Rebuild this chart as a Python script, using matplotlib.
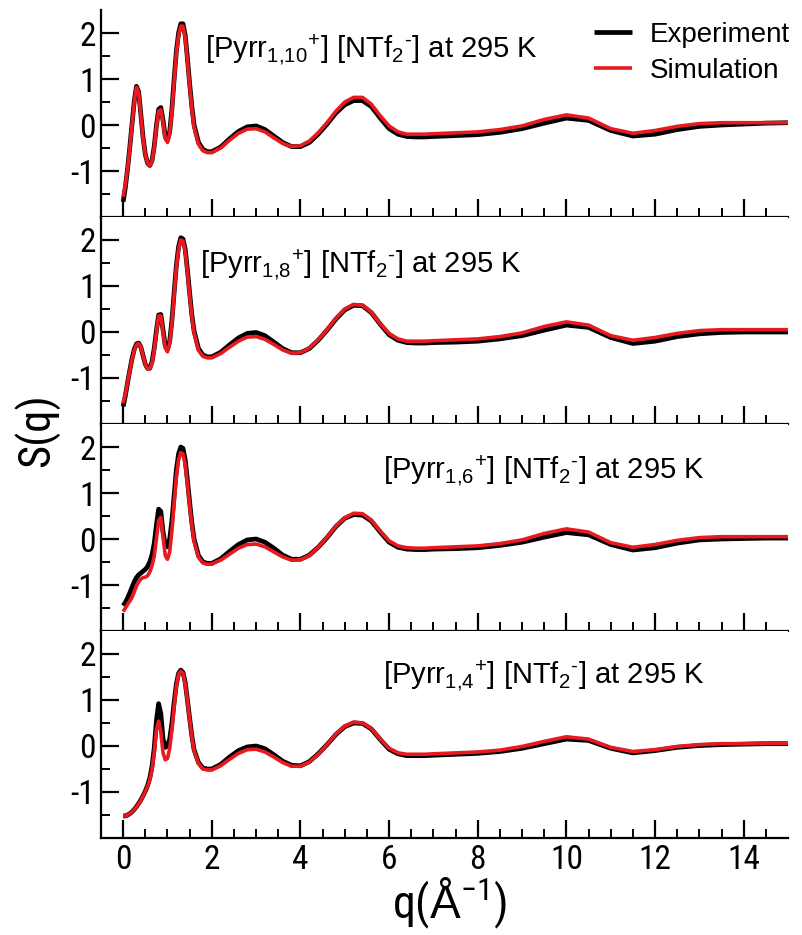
import matplotlib
matplotlib.use("Agg")
import matplotlib.pyplot as plt
from matplotlib import font_manager
from matplotlib.ticker import FixedLocator, NullFormatter

plt.rcParams['font.family'] = ['Liberation Sans', 'DejaVu Sans']
plt.rcParams['mathtext.fontset'] = 'custom'
plt.rcParams['mathtext.rm'] = 'Liberation Sans'
plt.rcParams['mathtext.it'] = 'Liberation Sans'
plt.rcParams['mathtext.default'] = 'regular'
plt.rcParams['axes.unicode_minus'] = False


def pick_family(candidates, default='Liberation Sans'):
    installed = {f.name for f in font_manager.fontManager.ttflist}
    for name in candidates:
        if name in installed:
            return name
    return default


narrow = [pick_family(['Liberation Sans Narrow', 'Arial Narrow', 'Roboto Condensed',
                       'Open Sans Condensed']), 'DejaVu Sans']

# scattering vector grid (1/Angstrom)
q = [0.0, 0.05, 0.1, 0.15, 0.2, 0.25, 0.3, 0.35, 0.4, 0.45, 0.5, 0.55, 0.6, 0.65,
     0.7, 0.75, 0.8, 0.85, 0.9, 0.95, 1.0, 1.05, 1.1, 1.15, 1.2, 1.25, 1.3, 1.35,
     1.4, 1.45, 1.5, 1.55, 1.6, 1.7, 1.8, 1.9, 2.0, 2.2, 2.4, 2.6, 2.8, 3.0, 3.2,
     3.4, 3.6, 3.8, 4.0, 4.2, 4.4, 4.6, 4.8, 5.0, 5.2, 5.4, 5.6, 5.8, 6.0, 6.2,
     6.4, 6.6, 6.8, 7.0, 7.5, 8.0, 8.5, 9.0, 9.5, 10.0, 10.5, 11.0, 11.5, 12.0,
     12.5, 13.0, 13.5, 14.0, 14.5, 15.0]

# [Pyrr1,10][NTf2]
exp_c10 = [-1.67, -1.35, -0.95, -0.48, 0.02, 0.52, 0.84, 0.72, 0.22, -0.28, -0.64, -0.83, -0.88, -0.78,
           -0.47, -0.02, 0.34, 0.38, 0.1, -0.25, -0.33, -0.15, 0.35, 1.0, 1.6, 2.0, 2.2, 2.2,
           1.95, 1.45, 0.9, 0.4, 0.0, -0.38, -0.53, -0.58, -0.58, -0.48, -0.3, -0.14, -0.04, -0.02, -0.1,
           -0.24, -0.38, -0.47, -0.47, -0.38, -0.2, 0.02, 0.26, 0.44, 0.53, 0.53, 0.4, 0.15, -0.08, -0.2,
           -0.25, -0.26, -0.26, -0.25, -0.23, -0.21, -0.16, -0.08, 0.04, 0.15, 0.1, -0.12, -0.24, -0.2,
           -0.1, -0.03, 0.0, 0.02, 0.04, 0.05]
sim_c10 = [-1.56, -1.3, -0.95, -0.5, 0.0, 0.5, 0.82, 0.7, 0.2, -0.3, -0.65, -0.83, -0.88, -0.8,
           -0.5, -0.05, 0.3, 0.33, 0.05, -0.3, -0.38, -0.2, 0.3, 0.95, 1.55, 1.95, 2.15, 2.15,
           1.9, 1.4, 0.85, 0.35, -0.05, -0.42, -0.56, -0.6, -0.6, -0.5, -0.33, -0.18, -0.09, -0.08, -0.15,
           -0.28, -0.4, -0.47, -0.45, -0.35, -0.17, 0.05, 0.3, 0.5, 0.6, 0.6, 0.45, 0.2, -0.02, -0.15,
           -0.2, -0.2, -0.2, -0.19, -0.17, -0.15, -0.1, -0.02, 0.12, 0.22, 0.15, -0.08, -0.18, -0.12,
           -0.03, 0.03, 0.05, 0.05, 0.05, 0.05]

# [Pyrr1,8][NTf2]
exp_c8 = [-1.62, -1.38, -1.1, -0.83, -0.58, -0.38, -0.26, -0.24, -0.33, -0.52, -0.7, -0.79, -0.79, -0.65,
          -0.36, 0.03, 0.37, 0.38, 0.04, -0.3, -0.38, -0.2, 0.25, 0.86, 1.45, 1.85, 2.05, 2.02,
          1.8, 1.35, 0.85, 0.37, 0.02, -0.36, -0.5, -0.54, -0.54, -0.44, -0.28, -0.13, -0.03, -0.01, -0.08,
          -0.22, -0.36, -0.45, -0.45, -0.36, -0.18, 0.04, 0.28, 0.48, 0.58, 0.57, 0.42, 0.17, -0.06, -0.18,
          -0.23, -0.24, -0.24, -0.23, -0.22, -0.2, -0.15, -0.08, 0.04, 0.15, 0.1, -0.12, -0.25, -0.2,
          -0.1, -0.04, -0.01, 0.0, 0.0, 0.0]
sim_c8 = [-1.55, -1.35, -1.1, -0.85, -0.6, -0.4, -0.28, -0.25, -0.33, -0.52, -0.7, -0.8, -0.8, -0.68,
          -0.4, 0.0, 0.35, 0.35, 0.0, -0.35, -0.43, -0.25, 0.2, 0.8, 1.4, 1.8, 2.0, 1.98,
          1.75, 1.3, 0.8, 0.33, -0.02, -0.4, -0.53, -0.56, -0.56, -0.47, -0.33, -0.2, -0.11, -0.1, -0.16,
          -0.27, -0.39, -0.46, -0.45, -0.35, -0.17, 0.05, 0.3, 0.5, 0.6, 0.58, 0.43, 0.18, -0.03, -0.15,
          -0.2, -0.2, -0.2, -0.19, -0.17, -0.15, -0.1, -0.02, 0.12, 0.22, 0.15, -0.08, -0.18, -0.12,
          -0.03, 0.03, 0.05, 0.05, 0.05, 0.05]

# [Pyrr1,6][NTf2]
exp_c6 = [-1.45, -1.38, -1.28, -1.17, -1.05, -0.93, -0.84, -0.78, -0.74, -0.7, -0.66, -0.6, -0.5, -0.35,
          -0.1, 0.3, 0.65, 0.6, 0.15, -0.12, -0.17, 0.0, 0.4, 0.95, 1.5, 1.85, 2.0, 1.97,
          1.72, 1.28, 0.8, 0.35, 0.0, -0.36, -0.5, -0.53, -0.53, -0.43, -0.27, -0.12, -0.02, 0.0, -0.07,
          -0.2, -0.35, -0.44, -0.44, -0.35, -0.18, 0.03, 0.27, 0.45, 0.53, 0.52, 0.39, 0.15, -0.07, -0.18,
          -0.22, -0.23, -0.23, -0.22, -0.21, -0.19, -0.14, -0.07, 0.04, 0.14, 0.09, -0.12, -0.24, -0.19,
          -0.09, -0.02, 0.0, 0.01, 0.02, 0.02]
sim_c6 = [-1.58, -1.5, -1.42, -1.35, -1.27, -1.15, -1.02, -0.93, -0.87, -0.84, -0.83, -0.8, -0.72, -0.58,
          -0.38, 0.0, 0.4, 0.47, 0.05, -0.36, -0.44, -0.28, 0.18, 0.78, 1.35, 1.72, 1.88, 1.85,
          1.62, 1.2, 0.72, 0.3, -0.05, -0.4, -0.52, -0.55, -0.54, -0.46, -0.33, -0.2, -0.12, -0.11, -0.17,
          -0.28, -0.39, -0.46, -0.45, -0.36, -0.18, 0.04, 0.28, 0.46, 0.56, 0.55, 0.41, 0.17, -0.04, -0.15,
          -0.19, -0.2, -0.2, -0.19, -0.17, -0.15, -0.1, -0.02, 0.12, 0.22, 0.15, -0.08, -0.18, -0.12,
          -0.03, 0.03, 0.05, 0.05, 0.05, 0.05]

# [Pyrr1,4][NTf2]
exp_c4 = [-1.52, -1.52, -1.5, -1.47, -1.43, -1.38, -1.32, -1.25, -1.17, -1.08, -0.98, -0.86, -0.7, -0.45,
          -0.05, 0.55, 0.92, 0.7, 0.15, -0.03, 0.0, 0.15, 0.5, 0.95, 1.35, 1.58, 1.65, 1.6,
          1.38, 1.0, 0.6, 0.22, -0.08, -0.36, -0.48, -0.5, -0.5, -0.4, -0.24, -0.1, -0.02, 0.0, -0.06,
          -0.19, -0.33, -0.42, -0.43, -0.34, -0.17, 0.03, 0.25, 0.42, 0.5, 0.49, 0.37, 0.14, -0.07, -0.17,
          -0.21, -0.21, -0.21, -0.2, -0.18, -0.16, -0.12, -0.05, 0.05, 0.15, 0.12, -0.05, -0.15, -0.1,
          -0.03, 0.01, 0.03, 0.04, 0.05, 0.05]
sim_c4 = [-1.52, -1.52, -1.5, -1.47, -1.43, -1.38, -1.33, -1.26, -1.18, -1.09, -0.99, -0.88, -0.74, -0.52,
          -0.15, 0.35, 0.54, 0.3, -0.15, -0.3, -0.27, -0.05, 0.35, 0.85, 1.3, 1.56, 1.63, 1.58,
          1.35, 0.98, 0.58, 0.2, -0.1, -0.38, -0.5, -0.52, -0.52, -0.43, -0.29, -0.16, -0.08, -0.07, -0.13,
          -0.24, -0.36, -0.44, -0.44, -0.35, -0.18, 0.03, 0.26, 0.43, 0.52, 0.5, 0.38, 0.15, -0.05, -0.15,
          -0.18, -0.18, -0.18, -0.17, -0.15, -0.13, -0.09, -0.01, 0.1, 0.2, 0.15, -0.03, -0.12, -0.08,
          -0.01, 0.03, 0.05, 0.05, 0.06, 0.06]

chains = ['1{,}10', '1{,}8', '1{,}6', '1{,}4']
panel_labels = [r'[Pyrr$_{%s}$$^{+}$] [NTf$_{2}$$^{\text{-}}$] at 295 K' % c for c in chains]
exp_series = [exp_c10, exp_c8, exp_c6, exp_c4]
sim_series = [sim_c10, sim_c8, sim_c6, sim_c4]

x_major = [0, 2, 4, 6, 8, 10, 12, 14]
x_minor = [0.5, 1, 1.5, 2.5, 3, 3.5, 4.5, 5, 5.5, 6.5, 7, 7.5, 8.5, 9, 9.5,
           10.5, 11, 11.5, 12.5, 13, 13.5, 14.5]
y_major = [-1, 0, 1, 2]
y_minor = [-1.5, -0.5, 0.5, 1.5]

W, H = 802, 935
fig = plt.figure(figsize=(W / 100, H / 100), dpi=100)
left, right = 101 / W, 788 / W
top_px, bot_px = 10, 838
h_px = (bot_px - top_px) / 4

# label anchor (figure px) for each panel: left x, vertical center y
label_pos = [(205, 50), (200, 265), (383, 471), (383, 676)]

axes = []
for i in range(4):
    y_top = top_px + i * h_px
    ax = fig.add_axes([left, 1 - (y_top + h_px) / H, right - left, h_px / H])
    axes.append(ax)
    ax.plot(q, exp_series[i], color='black', lw=3.4, solid_joinstyle='round',
            solid_capstyle='butt', label='Experiment')
    ax.plot(q, sim_series[i], color='#e8191f', lw=2.6, solid_joinstyle='round',
            solid_capstyle='butt', label='Simulation')
    ax.set_xlim(-0.5, 15)
    ax.set_ylim(-2, 2.5)
    for s in ('top', 'right'):
        ax.spines[s].set_visible(False)
    for s in ('left', 'bottom'):
        ax.spines[s].set_linewidth(1.6)
    ax.xaxis.set_major_locator(FixedLocator(x_major))
    ax.xaxis.set_minor_locator(FixedLocator(x_minor))
    ax.yaxis.set_major_locator(FixedLocator(y_major))
    ax.yaxis.set_minor_locator(FixedLocator(y_minor))
    ax.tick_params(which='major', direction='in', length=13, width=1.6,
                   labelsize=24, pad=4)
    ax.tick_params(which='minor', direction='in', length=6.5, width=1.4)
    for t in ax.get_yticklabels():
        t.set_fontfamily(narrow)
    if i < 3:
        ax.xaxis.set_major_formatter(NullFormatter())
    else:
        for t in ax.get_xticklabels():
            t.set_fontfamily(narrow)
    lx, ly = label_pos[i]
    fig.text(lx / W, 1 - ly / H, panel_labels[i], fontsize=21,
             ha='left', va='center')

leg = axes[0].legend(loc='upper left', bbox_to_anchor=(594 / W, 1 - 22 / H),
                     bbox_transform=fig.transFigure, frameon=False, fontsize=20,
                     handlelength=1.35, handletextpad=0.65, labelspacing=0.35,
                     borderaxespad=0, borderpad=0)

fig.text(37 / W, 1 - 430 / H, 'S(q)', rotation=90, fontsize=32,
         family=narrow, ha='center', va='center')
fig.text(450 / W, 1 - 903 / H, r'q($\mathrm{\AA}^{-1}$)', fontsize=33,
         family=narrow, ha='center', va='center')

fig.savefig('out.png', dpi=100)
